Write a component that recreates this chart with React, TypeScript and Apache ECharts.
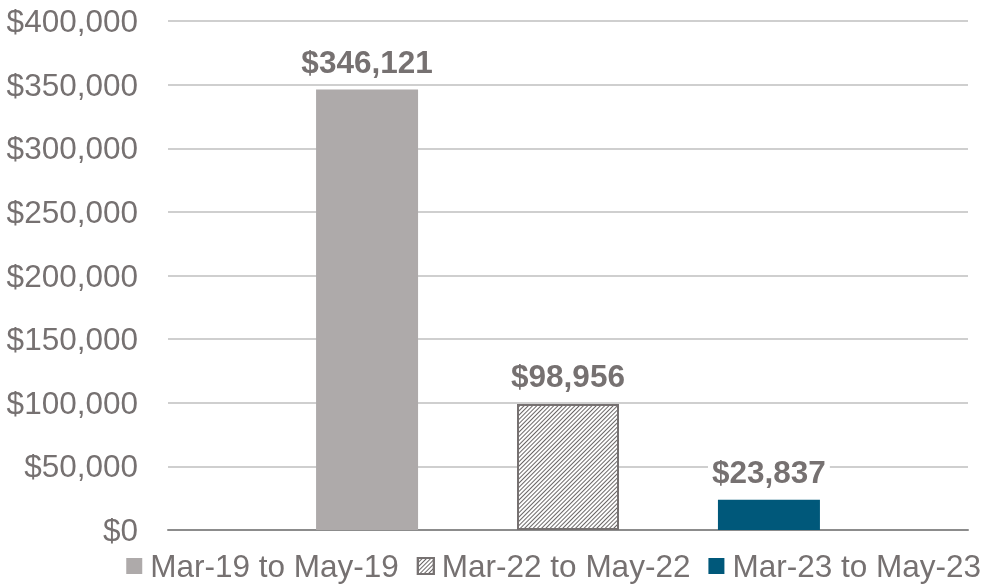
import React, { useEffect, useRef } from "react";
import * as echarts from "echarts";

const categories = ["Total"];
const seriesNames = ["Mar-19 to May-19", "Mar-22 to May-22", "Mar-23 to May-23"];
const seriesValues = [346121, 98956, 23837];
const yTicks = { min: 0, max: 400000, interval: 50000 };

const TEXT = "#767171";
const FS = 31.5;

export default function App() {
  const ref = useRef<HTMLDivElement>(null);
  useEffect(() => {
    if (!ref.current) return;
    const chart = echarts.init(ref.current, null, { renderer: "svg" });
    const fmt = (v: number) => "$" + Math.round(v).toLocaleString("en-US");
    const styles = [
      { color: "#AEAAAA" },
      {
        color: "#FFFFFF",
        borderColor: "#767171",
        borderWidth: 2,
        decal: {
          symbol: "rect",
          color: "#6A6666",
          dashArrayX: [1, 0],
          dashArrayY: [1, 1.8],
          rotation: -Math.PI / 4,
          symbolSize: 1,
        },
      },
      { color: "#00587A" },
    ];
    chart.setOption({
      animation: false,
      textStyle: { fontFamily: "Liberation Sans, Arial, sans-serif" },
      grid: { left: 168, right: 22, top: 21, bottom: 56, containLabel: false },
      legend: {
        bottom: -1,
        right: 4,
        itemWidth: 16,
        itemHeight: 16,
        itemGap: 18,
        icon: "rect",
        textStyle: { color: TEXT, fontSize: FS, fontFamily: "Liberation Sans, Arial, sans-serif", padding: [0, 0, 0, 3] },
        data: seriesNames,
      },
      xAxis: {
        type: "category",
        data: categories,
        axisLine: { lineStyle: { color: "#8C8C8C", width: 2 } },
        axisTick: { show: false },
        axisLabel: { show: false },
      },
      yAxis: {
        type: "value",
        min: yTicks.min,
        max: yTicks.max,
        interval: yTicks.interval,
        axisLine: { show: false },
        axisTick: { show: false },
        axisLabel: {
          color: TEXT,
          fontSize: FS,
          margin: 30,
          formatter: (v: number) => fmt(v),
        },
        splitLine: { lineStyle: { color: "#BFBFBF", width: 1.5 } },
      },
      series: seriesNames.map((name, i) => ({
        name,
        type: "bar",
        data: [seriesValues[i]],
        barWidth: 102,
        barGap: "97%",
        itemStyle: styles[i],
        label: {
          show: true,
          position: "top",
          distance: 12,
          color: TEXT,
          fontSize: FS,
          fontWeight: "bold",
          backgroundColor: "#FFFFFF",
          padding: [0, 4],
          formatter: (p: any) => fmt(p.value),
        },
      })),
    });
    return () => chart.dispose();
  }, []);
  return (
    <div
      ref={ref}
      style={{ position: "fixed", left: 0, top: 0, width: 990, height: 586 }}
    />
  );
}
